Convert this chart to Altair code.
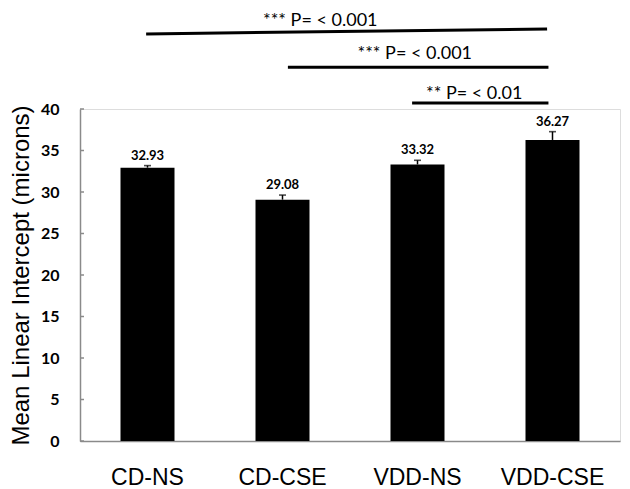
import altair as alt
import pandas as pd

categories = ["CD-NS", "CD-CSE", "VDD-NS", "VDD-CSE"]
means = [32.93, 29.08, 33.32, 36.27]
errors = [0.25, 0.55, 0.5, 1.0]
y_ticks = [0, 5, 10, 15, 20, 25, 30, 35, 40]

sig_text = ["*** P= < 0.001", "*** P= < 0.001", "** P= < 0.01"]
sig_x_start = [0.49, 1.54, 2.46]
sig_x_end = [3.46, 3.47, 3.47]
sig_y_start = [49.05, 45.04, 40.71]
sig_y_end = [49.64, 45.04, 40.71]
sig_text_x = [1.78, 2.48, 2.92]
sig_text_y = [49.95, 46.07, 41.19]

bars_df = pd.DataFrame({
    "cat": categories,
    "mean": means,
    "err": errors,
})
bars_df["top"] = bars_df["mean"] + bars_df["err"]
bars_df["label"] = [f"{m:.2f}" for m in means]

ticks_df = pd.DataFrame({"v": y_ticks})
sig_df = pd.DataFrame({
    "text": sig_text,
    "x1": sig_x_start, "x2": sig_x_end,
    "y1": sig_y_start, "y2": sig_y_end,
    "tx": sig_text_x, "ty": sig_text_y,
})

yscale = alt.Scale(domain=[0, 40], nice=False, zero=True)
xscale = alt.Scale(paddingInner=0.6, paddingOuter=0.3)
qscale = alt.Scale(domain=[0, 4], nice=False, zero=False)

x_enc = alt.X("cat:N", sort=categories, scale=xscale,
              axis=alt.Axis(title=None, labelAngle=0, tickSize=0, labelPadding=25,
                            labelFont="Liberation Sans", labelFontSize=23,
                            labelColor="#000000", domainColor="#8a8a8a",
                            domainWidth=1.5))
y_enc = alt.Y("mean:Q", scale=yscale,
              axis=alt.Axis(title="Mean Linear Intercept (microns)", values=y_ticks,
                            grid=False, tickSize=0, labelPadding=21,
                            labelFont="Lato", labelFontWeight="bold", labelFontSize=16,
                            labelColor="#000000", domainColor="#8a8a8a",
                            domainWidth=1.5, titleFont="Liberation Sans",
                            titleFontSize=24, titleFontWeight="normal",
                            titleColor="#000000", titlePadding=7))

base = alt.Chart(bars_df)
bars = base.mark_bar(color="#000000").encode(x=x_enc, y=y_enc)
err_rule = base.mark_rule(color="#000000", strokeWidth=1.5).encode(
    x=alt.X("cat:N", sort=categories), y=alt.Y("mean:Q"), y2="top:Q")
err_cap = base.mark_tick(color="#000000", size=7, thickness=1.6).encode(
    x=alt.X("cat:N", sort=categories), y=alt.Y("top:Q"))
val_text = base.mark_text(font="Lato", fontWeight="bold", fontSize=13,
                          baseline="alphabetic", dy=-6, color="#000000").encode(
    x=alt.X("cat:N", sort=categories), y=alt.Y("top:Q"), text="label:N")

yticks = alt.Chart(ticks_df).mark_rule(color="#8a8a8a", strokeWidth=1.5).encode(
    y=alt.Y("v:Q"), x=alt.value(0), x2=alt.value(4))

main = alt.layer(bars, err_rule, err_cap, val_text, yticks)

sig_lines = alt.Chart(sig_df).mark_rule(color="#000000", strokeWidth=3).encode(
    x=alt.X("x1:Q", scale=qscale, axis=None), x2="x2:Q",
    y=alt.Y("y1:Q"), y2="y2:Q")
sig_labels = alt.Chart(sig_df).mark_text(font="Lato", fontSize=18, baseline="alphabetic",
                                         color="#000000").encode(
    x=alt.X("tx:Q", scale=qscale, axis=None), y=alt.Y("ty:Q"), text="text:N")
annot = alt.layer(sig_lines, sig_labels)

chart = alt.layer(main, annot).resolve_scale(x="independent").properties(
    width=540, height=332,
    autosize=alt.AutoSizeParams(type="none"),
    padding={"left": 72, "top": 101, "right": 2, "bottom": 50},
).configure_view(stroke=None).configure(background="#ffffff")

chart.save("out.html", embed_options={"renderer": "svg", "actions": False})
